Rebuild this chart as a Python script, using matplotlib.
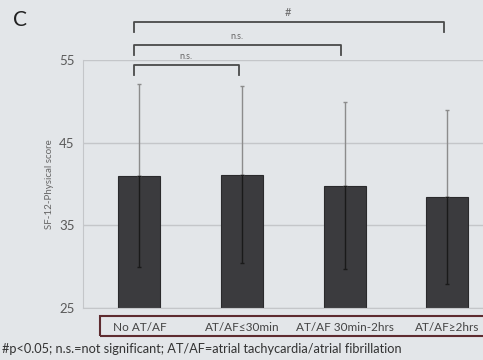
import matplotlib
matplotlib.use("Agg")
import matplotlib.pyplot as plt
from matplotlib.patches import Rectangle
import numpy as np

plt.rcParams['font.family'] = ['Lato', 'DejaVu Sans']

categories = ["No AT/AF", "AT/AF\u226430min", "AT/AF 30min-2hrs", "AT/AF\u22652hrs"]
means = [41.0, 41.1, 39.8, 38.4]
sds = [11.1, 10.7, 10.1, 10.5]
yticks = [25, 35, 45, 55]

# comparisons: (group a, group b, bracket height, label)
comparisons = [(0, 1, 54.4, "n.s."), (0, 2, 56.8, "n.s."), (0, 3, 59.6, "#")]

bg = "#e3e6e9"
W, H = 483, 360
fig = plt.figure(figsize=(W / 100, H / 100), dpi=100, facecolor=bg)

# axes placed in pixel terms: left edge 83, y=55 at 60 px, y=25 at 308 px
ax = fig.add_axes([83 / W, (H - 308) / H, (W - 83) / W, 248 / H], facecolor=bg)
x = np.arange(len(categories))

ax.bar(x, [m - 25 for m in means], bottom=25, width=0.41,
       color="#3b3b3e", edgecolor="#2a2a2c", linewidth=0.8, zorder=2)
# upper whisker above the bar (gray), lower whisker inside the bar (dark)
ax.errorbar(x, means, yerr=[np.zeros(len(sds)), sds], fmt="none",
            ecolor="#8c8c8c", elinewidth=1.0, capsize=1.5, zorder=3)
ax.errorbar(x, means, yerr=[sds, np.zeros(len(sds))], fmt="none",
            ecolor="#1a1a1a", elinewidth=1.0, capsize=1.5, zorder=3)

ax.set_xlim(-0.55, 3.35)
ax.set_ylim(25, 55)
ax.set_yticks(yticks)
ax.set_yticklabels([str(t) for t in yticks], fontsize=9.5, color="#5a5a5a")
ax.yaxis.grid(True, color="#c4c6c9", linewidth=1.0, zorder=0)
ax.set_axisbelow(True)
for s in ["top", "right"]:
    ax.spines[s].set_visible(False)
ax.spines["left"].set_color("#c4c6c9")
ax.spines["bottom"].set_color("#c4c6c9")
ax.tick_params(axis="y", length=0, pad=6)
ax.tick_params(axis="x", length=0, pad=10)
ax.set_xticks(x)
ax.set_xticklabels(categories, fontsize=8.5, color="#444444")
ax.set_ylabel("SF-12-Physical score", fontsize=7, color="#666666", labelpad=4)

# significance brackets
for a, b, h, lab in comparisons:
    ax.plot([x[a] - 0.05, x[a] - 0.05, x[b] - 0.03, x[b] - 0.03],
            [h - 1.2, h, h, h - 1.2], color="#4a4a4a", lw=1.3,
            clip_on=False, zorder=4)
    ax.text((x[a] + x[b]) / 2 - 0.05, h + 0.5, lab, ha="center", va="bottom",
            fontsize=6.5 if lab != "#" else 8, color="#666666", clip_on=False)

# frame around the category labels
fig.patches.append(Rectangle((100 / W, (H - 336) / H), (W - 98) / W, 20 / H,
                             transform=fig.transFigure, fill=False,
                             edgecolor="#5e2c30", linewidth=1.5))

fig.text(20 / W, 1 - 20 / H, "C", fontsize=15, color="#222222",
         ha="center", va="center")
fig.text(2 / W, 1 - 349 / H,
         "#p<0.05; n.s.=not significant; AT/AF=atrial tachycardia/atrial fibrillation",
         fontsize=9.2, color="#333333", ha="left", va="center")

fig.savefig("out.png", dpi=100, facecolor=bg)
